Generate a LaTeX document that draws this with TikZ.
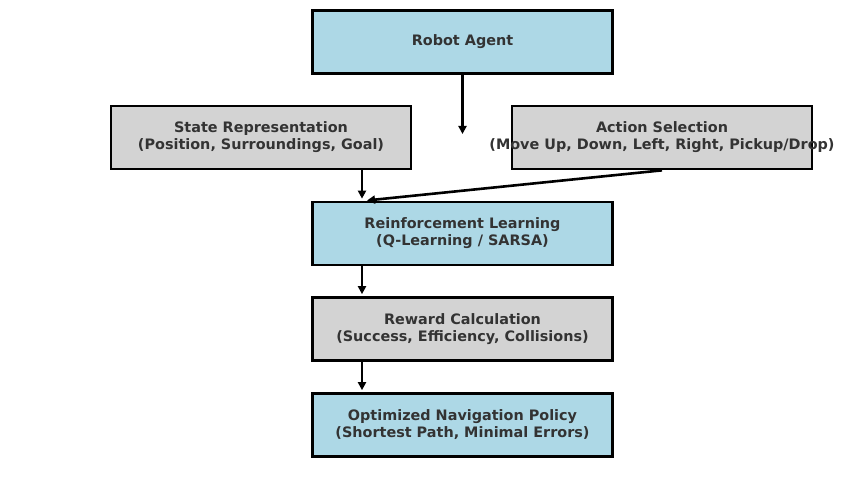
\documentclass[tikz,border=0pt]{standalone}
\usepackage{fontspec}
\setmainfont{DejaVu Sans}
\usetikzlibrary{arrows.meta}
\definecolor{lblue}{HTML}{ADD8E6}
\definecolor{lgray}{HTML}{D3D3D3}
\definecolor{txt}{HTML}{333333}
\newcommand{\wideline}[1]{\makebox[280pt][c]{#1}}
\begin{document}
\begin{tikzpicture}[x=1pt,y=-1pt,
  box/.style={draw=black, line width=2.7pt, minimum width=300pt, minimum height=63pt,
    inner sep=0pt, align=center, text=txt, font=\bfseries\fontsize{14.4}{17}\selectfont},
  bluebox/.style={box, fill=lblue},
  graybox/.style={box, fill=lgray},
  arr/.style={line width=2.6pt, -{Triangle[length=8pt,width=8pt]}}]
\useasboundingbox (0,0) rectangle (846,500);
\node[bluebox] (robot) at (462.5,42) {Robot Agent};
\node[graybox] (state) at (261,137.5) {State Representation\\(Position, Surroundings, Goal)};
\node[graybox] (action) at (662,137.5) {\wideline{Action Selection}\\\wideline{(Move Up, Down, Left, Right, Pickup/Drop)}};
\node[bluebox] (rl) at (462.5,233.5) {Reinforcement Learning\\(Q-Learning / SARSA)};
\node[graybox] (reward) at (462.5,329) {Reward Calculation\\(Success, Efficiency, Collisions)};
\node[bluebox] (policy) at (462.5,425) {Optimized Navigation Policy\\(Shortest Path, Minimal Errors)};
\coordinate (free) at (462.5,134);
\draw[arr] (robot.south) -- (free);
\draw[arr, shorten >=2pt] (state.south -| 362,0) -- (rl.north -| 362,0);
\draw[arr, shorten >=2pt] (action.south) -- (rl.north -| 365,0);
\draw[arr, shorten >=2pt] (rl.south -| 362,0) -- (reward.north -| 362,0);
\draw[arr, shorten >=2pt] (reward.south -| 362,0) -- (policy.north -| 362,0);
\end{tikzpicture}
\end{document}
